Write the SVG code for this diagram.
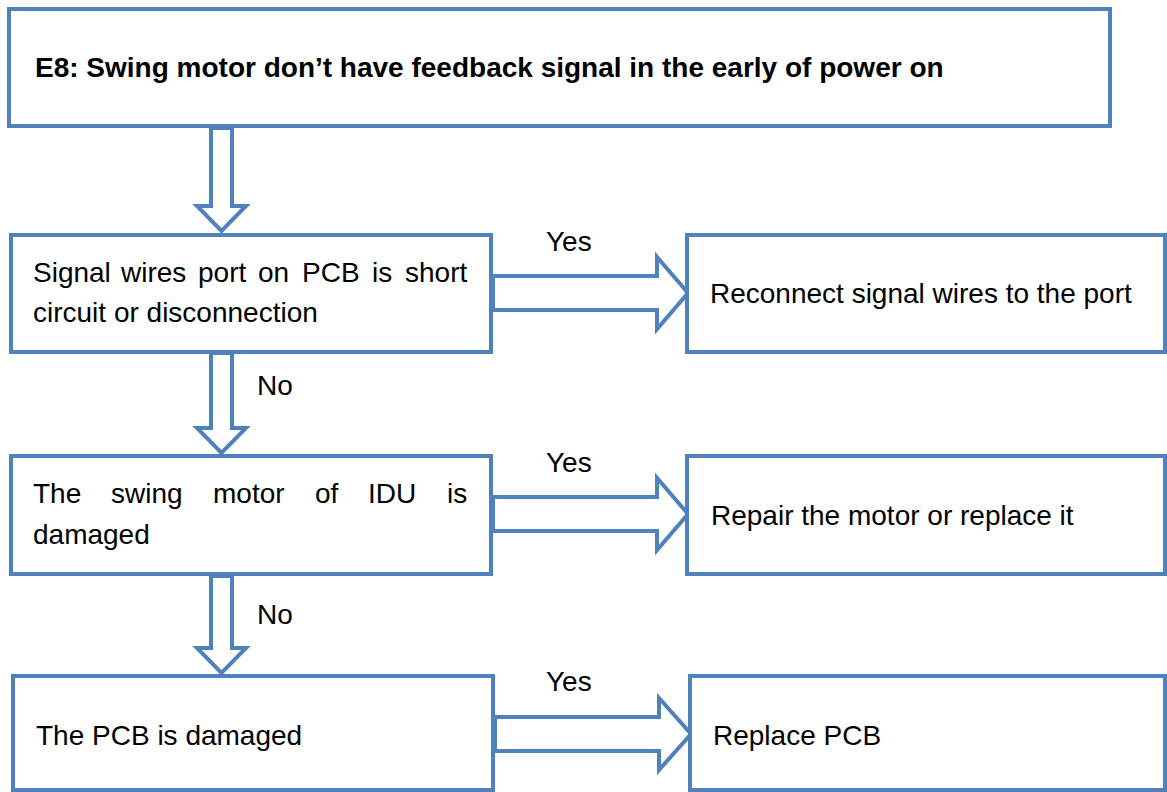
<svg xmlns="http://www.w3.org/2000/svg" width="1167" height="792" viewBox="0 0 1167 792">
<style>
.box{fill:#ffffff;stroke:#4F81BD;stroke-width:4}
.arr{fill:#ffffff;stroke:#4F81BD;stroke-width:4;stroke-linejoin:miter}
text{font-family:"Liberation Sans",Arial,sans-serif;font-size:28px;fill:#000000}
.b{font-weight:bold}
</style>
<rect width="1167" height="792" fill="#ffffff"/>
<g id="connectors">
<polygon class="arr" points="211,128 232,128 232,206 246,206 221.5,231 197,206 211,206"/>
<polygon class="arr" points="211,353 232,353 232,428 246,428 221.5,453 197,428 211,428"/>
<polygon class="arr" points="211,576 232,576 232,648 246,648 221.5,673 197,648 211,648"/>
<polygon class="arr" points="493,276 657,276 657,257 688,293 657,329 657,310 493,310"/>
<polygon class="arr" points="493,497 657,497 657,478 688,514 657,550 657,531 493,531"/>
<polygon class="arr" points="495,717 659,717 659,698 691,734 659,770 659,751 495,751"/>
<text x="546" y="251">Yes</text>
<text x="546" y="472">Yes</text>
<text x="546" y="691">Yes</text>
<text x="257" y="395">No</text>
<text x="257" y="624">No</text>
</g>
<g id="n_title">
<rect class="box" x="9" y="9" width="1101" height="117"/>
<text class="b" x="35" y="77">E8: Swing motor don’t have feedback signal in the early of power on</text>
</g>
<g id="n_signal">
<rect class="box" x="11" y="235" width="480" height="117"/>
<text y="282"><tspan x="33">Signal</tspan><tspan x="121">wires</tspan><tspan x="198">port</tspan><tspan x="258">on</tspan><tspan x="302">PCB</tspan><tspan x="372">is</tspan><tspan x="405">short</tspan></text>
<text x="33" y="322">circuit or disconnection</text>
</g>
<g id="n_reconnect">
<rect class="box" x="687" y="235" width="478" height="117"/>
<text x="710" y="303">Reconnect signal wires to the port</text>
</g>
<g id="n_motor">
<rect class="box" x="11" y="456" width="480" height="118"/>
<text y="503"><tspan x="33">The</tspan><tspan x="111">swing</tspan><tspan x="213">motor</tspan><tspan x="315">of</tspan><tspan x="368">IDU</tspan><tspan x="447">is</tspan></text>
<text x="33" y="544">damaged</text>
</g>
<g id="n_repair">
<rect class="box" x="687" y="456" width="478" height="118"/>
<text x="711" y="525">Repair the motor or replace it</text>
</g>
<g id="n_pcb">
<rect class="box" x="13" y="676" width="480" height="114"/>
<text x="36" y="745">The PCB is damaged</text>
</g>
<g id="n_replace">
<rect class="box" x="690" y="676" width="475" height="114"/>
<text x="713" y="745">Replace PCB</text>
</g>
</svg>
